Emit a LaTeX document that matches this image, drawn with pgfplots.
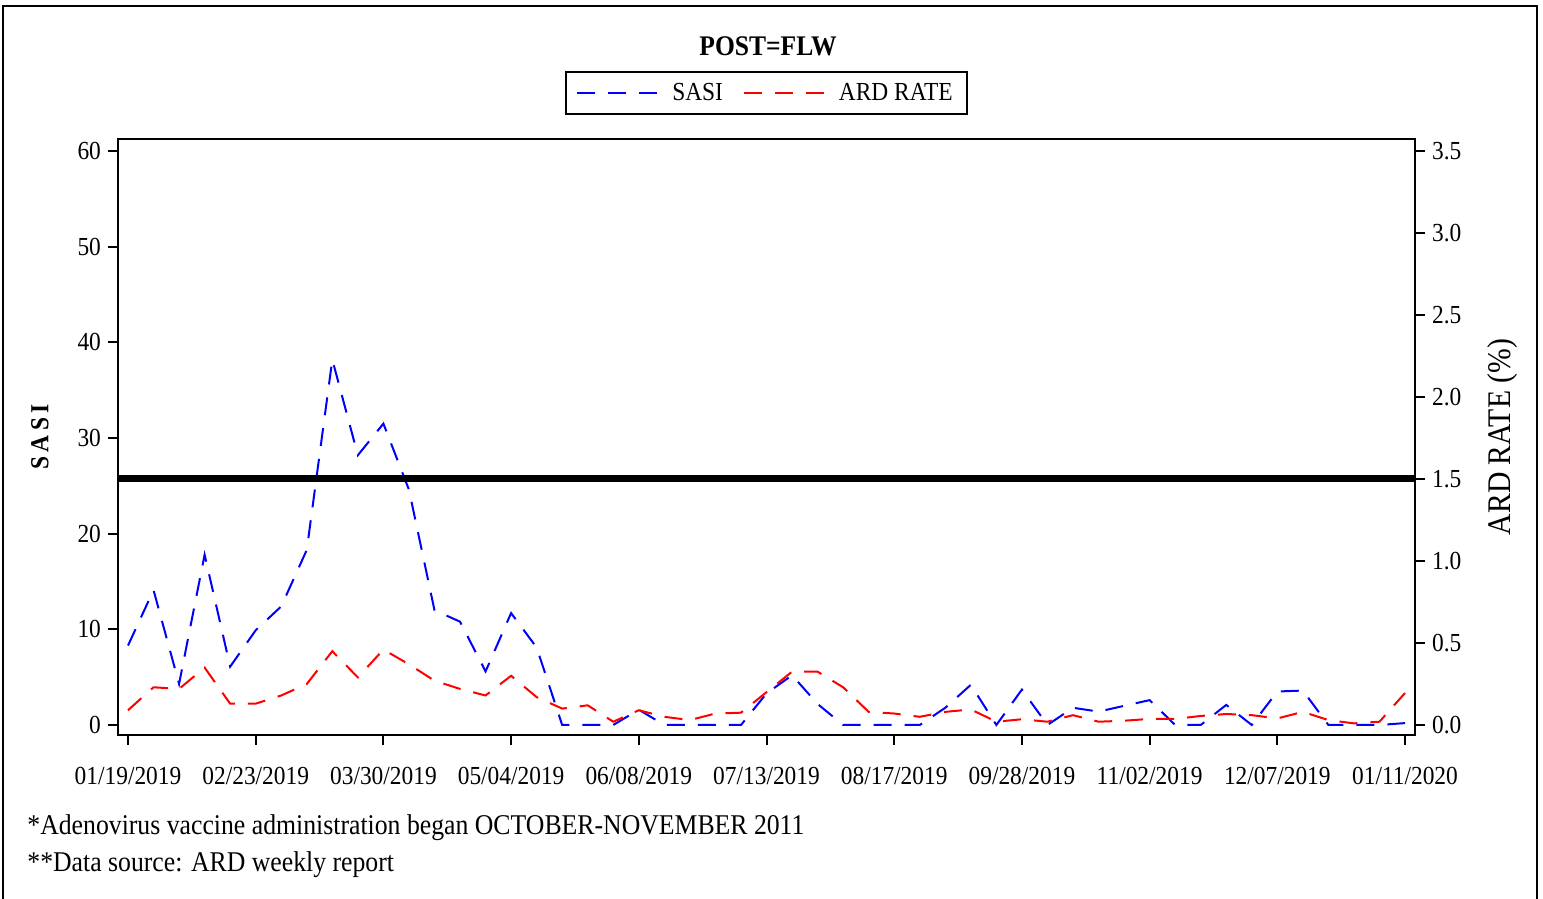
\documentclass[border=0pt]{standalone}
\usepackage{fontspec}
\setmainfont[FakeStretch=0.9]{Liberation Serif}
\usepackage{pgfplots}
\usepackage{pgfplotstable}
\pgfplotsset{compat=1.18}

\pgfplotstableread{
i sasi
0 8.3
1 14.1
2 4.3
3 17.8
4 6.1
5 9.9
6 12.4
7 18.3
8 38.2
9 28.2
10 31.5
11 24.6
12 12.0
13 10.8
14 5.6
15 11.7
16 8.1
17 0
18 0
19 0
20 1.6
21 0
22 0
23 0
24 0
25 3.3
26 5.2
27 2.2
28 0
29 0
30 0
31 0
32 1.8
33 4.2
34 0
35 3.7
36 0
37 1.8
38 1.4
39 2.0
40 2.6
41 0
42 0
43 2.1
44 0
45 3.5
46 3.6
47 0
48 0
49 0
50 0.2
}\sasidata

\pgfplotstableread{
i ard
0 0.09
1 0.23
2 0.22
3 0.35
4 0.13
5 0.13
6 0.18
7 0.25
8 0.45
9 0.29
10 0.46
11 0.37
12 0.27
13 0.22
14 0.18
15 0.30
16 0.17
17 0.10
18 0.12
19 0.02
20 0.09
21 0.05
22 0.03
23 0.07
24 0.075
25 0.20
26 0.325
27 0.325
28 0.23
29 0.08
30 0.07
31 0.05
32 0.08
33 0.095
34 0.02
35 0.035
36 0.02
37 0.06
38 0.02
39 0.026
40 0.037
41 0.037
42 0.055
43 0.067
44 0.06
45 0.04
46 0.08
47 0.03
48 0.01
49 0.02
50 0.195
}\arddata

\tikzset{sasdash/.style={dash pattern=on 9pt off 6.5pt, line width=1pt}}

\begin{document}
\begin{tikzpicture}
\path[use as bounding box] (0pt,0pt) rectangle (771.5pt,449.5pt);
\draw[line width=1pt] (1.5pt,-1pt) -- (1.5pt,446.5pt) -- (768.5pt,446.5pt) -- (768.5pt,-1pt);

\pgfplotsset{
  every axis/.append style={
    at={(59pt,82pt)}, anchor=south west,
    width=648.5pt, height=298pt, scale only axis,
    xmin=-0.3915, xmax=50.3915,
    axis line style={line width=1pt},
    tick style={line width=1pt, black},
    tick align=outside,
    major tick length=5pt,
    tick label style={font=\fontsize{13}{15}\selectfont},
    /pgf/number format/assume math mode=true,
  }
}

\begin{axis}[
  ymin=-1.045, ymax=61.254,
  xtick={0,5,...,50},
  xticklabels={01/19/2019,02/23/2019,03/30/2019,05/04/2019,06/08/2019,07/13/2019,08/17/2019,09/28/2019,11/02/2019,12/07/2019,01/11/2020},
  xtick pos=bottom,
  ytick={0,10,...,60},
  ytick pos=left,
  xticklabel style={yshift=-7.5pt},
]
\addplot[blue, sasdash] table[x=i, y=sasi] {\sasidata};
\end{axis}

\begin{axis}[
  ymin=-0.06096, ymax=3.5732,
  axis x line=none,
  axis y line*=right,
  ytick={0,0.5,...,3.5},
  yticklabel style={/pgf/number format/.cd, fixed, fixed zerofill, precision=1},
  legend style={at={(0.5,1.0772)}, anchor=center, draw=black, line width=1pt,
    font=\fontsize{13}{15}\selectfont, inner xsep=5pt, inner ysep=3.5pt,
    /tikz/every odd column/.append style={column sep=4pt},
    /tikz/every even column/.append style={column sep=8pt}},
  legend columns=2,
  legend image code/.code={\draw[#1] (0pt,0pt) -- (41pt,0pt);},
]
\addlegendimage{blue, sasdash}
\addlegendentry{SASI}
\addplot[red, sasdash] table[x=i, y=ard] {\arddata};
\addlegendentry{ARD RATE}
\addplot[black, line width=3.5pt, forget plot] coordinates {(-0.3915,1.5) (50.3915,1.5)};
\end{axis}

\node[font=\bfseries\fontsize{14.2}{17}\selectfont] at (384pt,426.5pt) {POST=FLW};
\node[rotate=90, font=\bfseries\fontsize{13}{15}\selectfont] at (20pt,231pt) {S\,A\,S\,I};
\node[rotate=90, font=\fontsize{16.5}{18}\selectfont] at (751.5pt,231pt) {ARD RATE (\%)};
\node[anchor=base west, inner sep=0pt, font=\fontsize{14.3}{16}\selectfont] at (13.5pt,32pt) {*Adenovirus vaccine administration began OCTOBER-NOVEMBER 2011};
\node[anchor=base west, inner sep=0pt, font=\fontsize{14.3}{16}\selectfont] at (13.5pt,13.5pt) {**Data source: ARD weekly report};
\end{tikzpicture}
\end{document}
